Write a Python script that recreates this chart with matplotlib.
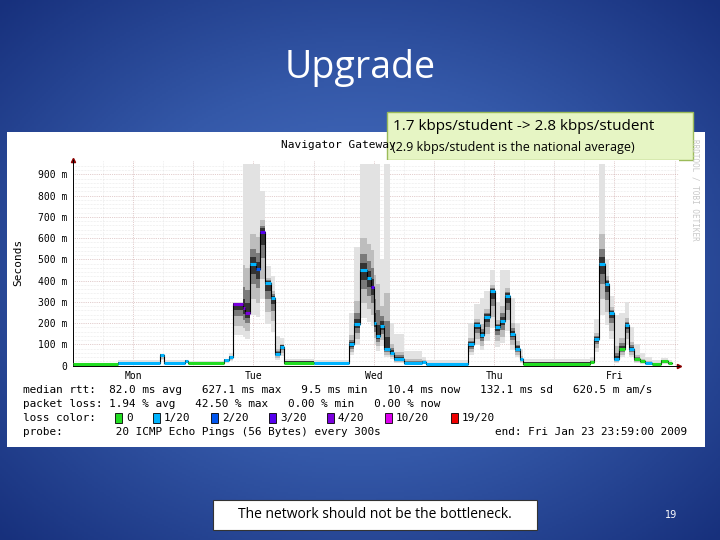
import numpy as np
import matplotlib.pyplot as plt
from matplotlib.patches import Rectangle

# step breakpoints (hours since Mon 00:00) and median rtt (ms) for each step
hours = [0, 9, 17.4, 18.1, 22.4, 22.9, 30.2, 31.1, 31.9, 33.9, 34.4, 35.3, 36.6, 37.3, 38.3,
         39.4, 40.3, 41.2, 42.1, 48, 55.0, 56.1, 57.3, 58.6, 59.4, 60.0, 60.5, 61.2, 62.1,
         63.2, 64.1, 66.0, 69.6, 70.5, 78.8, 79.9, 81.1, 82.0, 83.2, 84.1, 85.2, 86.1, 87.2,
         88.1, 89.1, 89.8, 103.1, 104.0, 104.9, 106.1, 107.0, 107.9, 109.0, 110.1, 111.0,
         111.9, 113.1, 114.0, 115.4, 117.2, 118.6, 119.5]
median = [10, 12, 50, 15, 22, 12, 25, 40, 290, 270, 250, 480, 455, 630, 390, 320, 55, 90, 15,
          15, 100, 195, 450, 410, 370, 200, 140, 185, 80, 60, 30, 12, 18, 10, 100, 190, 145,
          230, 350, 180, 210, 330, 150, 80, 30, 10, 18, 125, 480, 385, 250, 30, 80, 190, 80,
          30, 20, 12, 10, 20, 15]
smoke_top = [12, 28, 55, 25, 28, 20, 30, 60, 300, 950, 950, 950, 950, 820, 470, 420, 140, 130,
             30, 25, 250, 560, 950, 950, 950, 950, 950, 500, 950, 200, 150, 70, 40, 25, 200,
             290, 320, 350, 450, 300, 450, 450, 320, 200, 80, 30, 40, 220, 950, 500, 330, 240,
             250, 300, 180, 100, 60, 40, 25, 35, 25]
loss = [0, 1, 1, 1, 1, 0, 1, 1, 4, 4, 4, 1, 2, 3, 1, 1, 1, 1, 0, 1, 1, 1, 1, 1, 3, 1, 1, 1, 1,
        1, 1, 1, 1, 1, 1, 1, 1, 1, 1, 1, 1, 1, 1, 1, 1, 0, 0, 1, 1, 1, 1, 1, 0, 1, 1, 0, 0, 1,
        0, 0, 0]
loss_colors = ['#22dd22', '#00b4ff', '#0055ee', '#5500ee', '#7a00dd', '#dd00ee', '#ee0000']
loss_labels = ['0', '1/20', '2/20', '3/20', '4/20', '10/20', '19/20']
days = ['Mon', 'Tue', 'Wed', 'Thu', 'Fri']
yticks = [0, 100, 200, 300, 400, 500, 600, 700, 800, 900]

fig = plt.figure(figsize=(7.2, 5.4), dpi=100)

# slide background
bg = fig.add_axes([0, 0, 1, 1])
yy, xx = np.mgrid[0:1:270j, 0:1:360j]
r = np.sqrt(((xx - 0.5) / 0.8) ** 2 + ((yy - 0.5) / 0.8) ** 2)
bg.imshow(r, cmap=plt.matplotlib.colors.LinearSegmentedColormap.from_list(
    'bg', ['#4d75c8', '#3458a8', '#17307c']), extent=[0, 720, 540, 0], aspect='auto')
bg.set_xlim(0, 720)
bg.set_ylim(540, 0)
bg.axis('off')
bg.add_patch(Rectangle((7, 132), 698, 315, facecolor='white', edgecolor='none'))
bg.text(360, 68, 'Upgrade', color='white', fontsize=27, ha='center', va='center',
        family='Open Sans')

mono = 'DejaVu Sans Mono'
bg.text(338, 145, 'Navigator Gateway', fontsize=8, family=mono, ha='center', va='center')
bg.text(695, 190, 'RRDTOOL / TOBI OETIKER', fontsize=5.5, family=mono, color='#c8c8c8',
        rotation=-90, ha='center', va='center')
bg.text(18, 262, 'Seconds', fontsize=8, family=mono, rotation=90, ha='center', va='center')
bg.text(23, 390, 'median rtt:  82.0 ms avg   627.1 ms max   9.5 ms min   10.4 ms now   '
        '132.1 ms sd   620.5 m am/s', fontsize=7.9, family=mono, va='center')
bg.text(23, 404, 'packet loss: 1.94 % avg   42.50 % max   0.00 % min   0.00 % now',
        fontsize=7.9, family=mono, va='center')
bg.text(23, 418, 'loss color:', fontsize=7.9, family=mono, va='center')
sq_x = [115, 153, 211, 269, 327, 385, 451]
for x, c, lab in zip(sq_x, loss_colors, loss_labels):
    bg.add_patch(Rectangle((x, 413), 7, 10, facecolor=c, edgecolor='black', lw=0.6))
    bg.text(x + 11, 418, lab, fontsize=7.9, family=mono, va='center')
bg.text(23, 432, 'probe:        20 ICMP Echo Pings (56 Bytes) every 300s',
        fontsize=7.9, family=mono, va='center')
bg.text(687, 432, 'end: Fri Jan 23 23:59:00 2009', fontsize=7.9, family=mono,
        va='center', ha='right')

# callout and footer
bg.add_patch(Rectangle((387, 112), 306, 48, facecolor='#e6f5c4', edgecolor='#9bbb59', lw=1))
bg.text(393, 126, '1.7 kbps/student -> 2.8 kbps/student', fontsize=11,
        family='Open Sans', va='center')
bg.text(392, 148, '(2.9 kbps/student is the national average)', fontsize=9,
        family='Open Sans', va='center')
bg.add_patch(Rectangle((213, 500), 324, 30, facecolor='white', edgecolor='#333333', lw=0.8))
bg.text(375, 515, 'The network should not be the bottleneck.', fontsize=10,
        family='Open Sans', ha='center', va='center')
bg.text(671, 515, '19', fontsize=7, color='white', ha='center', va='center')

# chart
ax = fig.add_axes([73 / 720, 1 - 365.7 / 540, (678.6 - 73) / 720, (365.7 - 160) / 540])
ax.set_xlim(0, 120.8)
ax.set_ylim(0, 967)
for i in range(len(median)):
    x0, x1 = hours[i], hours[i + 1]
    m, top = median[i], smoke_top[i]
    ax.fill_between([x0, x1], m * 0.5, top, color='#e2e2e2', lw=0, zorder=1)
    ax.fill_between([x0, x1], m * 0.65, m + (top - m) * 0.3, color='#bdbdbd', lw=0, zorder=2)
    ax.fill_between([x0, x1], m * 0.8, m + (top - m) * 0.15, color='#7a7a7a', lw=0, zorder=2)
    ax.fill_between([x0, x1], m * 0.9, m + (top - m) * 0.06 + 4, color='#333333', lw=0,
                    zorder=3)
ax.step(hours, median + [median[-1]], where='post', color='black', lw=0.8, zorder=4)
for i in range(len(median)):
    ax.plot([hours[i], hours[i + 1]], [median[i], median[i]], color=loss_colors[loss[i]],
            lw=2.2, solid_capstyle='butt', zorder=5)

ax.set_yticks(yticks)
ax.set_yticklabels(['0'] + [f'{v} m' for v in yticks[1:]], family=mono, fontsize=7)
ax.set_yticks(np.arange(0, 960, 20), minor=True)
ax.set_xticks([12, 36, 60, 84, 108])
ax.set_xticklabels(days, family=mono, fontsize=7)
ax.set_xticks(np.arange(0, 121, 6), minor=True)
ax.tick_params(axis='both', which='both', length=0, pad=4)
ax.grid(True, which='major', color='#c8a0a0', lw=0.5, ls=':')
ax.grid(True, which='minor', color='#d8d8d8', lw=0.4, ls=':')
for d in range(6):
    ax.axvline(d * 24, color='#d8b8b8', lw=0.5, ls=':', zorder=0)
for s in ['top', 'right']:
    ax.spines[s].set_visible(False)
ax.spines['left'].set_linewidth(0.7)
ax.spines['bottom'].set_linewidth(0.7)
ax.plot(0, 967, marker='^', color='#880000', markersize=3, clip_on=False)
ax.plot(120.8, 0, marker='>', color='#880000', markersize=3, clip_on=False)
ax.set_axisbelow(True)

fig.savefig('out.png', dpi=100)
